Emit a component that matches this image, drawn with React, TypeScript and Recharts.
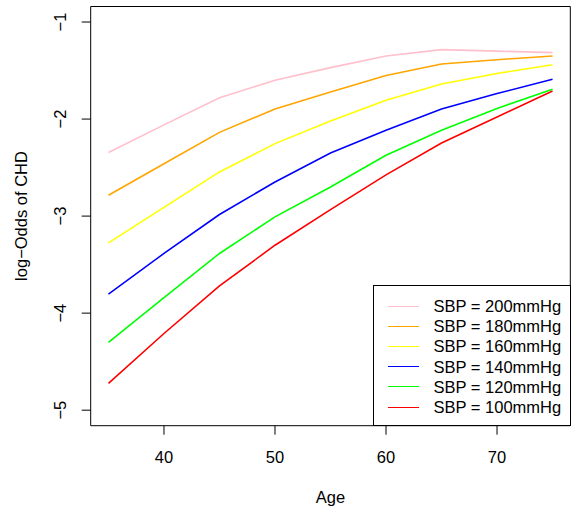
import React from "react";
import { LineChart, Line, XAxis, YAxis, ReferenceArea } from "recharts";

const ages = [35, 40, 45, 50, 55, 60, 65, 70, 75];
const sbp200 = [-2.345, -2.06, -1.78, -1.6, -1.47, -1.35, -1.284, -1.3, -1.315];
const sbp180 = [-2.785, -2.46, -2.137, -1.896, -1.72, -1.552, -1.432, -1.388, -1.35];
const sbp160 = [-3.276, -2.91, -2.545, -2.253, -2.02, -1.806, -1.638, -1.53, -1.44];
const sbp140 = [-3.804, -3.385, -2.984, -2.648, -2.35, -2.115, -1.896, -1.737, -1.59];
const sbp120 = [-4.302, -3.84, -3.385, -3.008, -2.7, -2.373, -2.115, -1.89, -1.693];
const sbp100 = [-4.724, -4.21, -3.72, -3.3, -2.934, -2.575, -2.246, -1.978, -1.71];

const xTicks = [40, 50, 60, 70];
const yTicks = [-5, -4, -3, -2, -1];
const xDomain = [33.4, 76.6];
const yDomain = [-5.16, -0.84];

const series = [
    { key: "s200", label: "SBP = 200mmHg", color: "#FFC0CB", values: sbp200 },
    { key: "s180", label: "SBP = 180mmHg", color: "#FFA500", values: sbp180 },
    { key: "s160", label: "SBP = 160mmHg", color: "#FFFF00", values: sbp160 },
    { key: "s140", label: "SBP = 140mmHg", color: "#0000FF", values: sbp140 },
    { key: "s120", label: "SBP = 120mmHg", color: "#00FF00", values: sbp120 },
    { key: "s100", label: "SBP = 100mmHg", color: "#FF0000", values: sbp100 },
];

const data = ages.map((age, i) => {
    const row: Record<string, number> = { age };
    series.forEach((s) => {
        row[s.key] = s.values[i];
    });
    return row;
});

const FONT = "'Liberation Sans', Arial, Helvetica, sans-serif";
const fmt = (v: number) => String(v).replace("-", "\u2212");

const XTick = ({ x, payload }: any) => (
    <text x={x} y={457} textAnchor="middle" dominantBaseline="central" fontFamily={FONT} fontSize={16.5} fill="#000">
        {payload.value}
    </text>
);

const YTick = ({ y, payload }: any) => (
    <text
        x={60}
        y={y}
        transform={`rotate(-90, 60, ${y})`}
        textAnchor="middle"
        dominantBaseline="central"
        fontFamily={FONT}
        fontSize={16.5}
        fill="#000"
    >
        {fmt(payload.value)}
    </text>
);

export default function App() {
    return (
        <div style={{ position: "absolute", left: 0, top: 0, width: 572, height: 513, background: "#fff" }}>
            <LineChart width={572} height={513} data={data} margin={{ top: 6.5, right: 1.7, bottom: 0, left: 0 }}>
                <XAxis
                    dataKey="age"
                    type="number"
                    domain={xDomain}
                    ticks={xTicks}
                    allowDataOverflow
                    height={87.3}
                    axisLine={false}
                    tickSize={9}
                    tickLine={{ stroke: "#000", strokeWidth: 1 }}
                    tick={<XTick />}
                    label={{
                        content: () => (
                            <text x={330.5} y={497} textAnchor="middle" dominantBaseline="central" fontFamily={FONT} fontSize={16.5} fill="#000">
                                Age
                            </text>
                        ),
                    }}
                />
                <YAxis
                    type="number"
                    domain={yDomain}
                    ticks={yTicks}
                    allowDataOverflow
                    width={90.7}
                    axisLine={false}
                    tickSize={9}
                    tickLine={{ stroke: "#000", strokeWidth: 1 }}
                    tick={<YTick />}
                    label={{
                        content: () => (
                            <text
                                x={21}
                                y={216}
                                transform="rotate(-90, 21, 216)"
                                textAnchor="middle"
                                dominantBaseline="central"
                                fontFamily={FONT}
                                fontSize={16.5}
                                fill="#000"
                            >
                                log{"\u2212"}Odds of CHD
                            </text>
                        ),
                    }}
                />
                <ReferenceArea
                    x1={xDomain[0]}
                    x2={xDomain[1]}
                    y1={yDomain[0]}
                    y2={yDomain[1]}
                    fill="none"
                    stroke="#000"
                    strokeWidth={1}
                    fillOpacity={0}
                    ifOverflow="visible"
                />
                {series
                    .slice()
                    .reverse()
                    .map((s) => (
                        <Line
                            key={s.key}
                            type="linear"
                            dataKey={s.key}
                            stroke={s.color}
                            strokeWidth={1.6}
                            dot={false}
                            activeDot={false}
                            isAnimationActive={false}
                        />
                    ))}
            </LineChart>
            <div
                style={{
                    position: "absolute",
                    left: 372.5,
                    top: 284.5,
                    width: 198,
                    height: 141.5,
                    border: "1px solid #000",
                    boxSizing: "border-box",
                    background: "#fff",
                    fontFamily: FONT,
                    fontSize: 16.5,
                }}
            >
                {series.map((s, i) => (
                    <div
                        key={s.key}
                        style={{
                            position: "absolute",
                            left: 0,
                            top: 20.5 + i * 20.2 - 10,
                            height: 20,
                            display: "flex",
                            alignItems: "center",
                            whiteSpace: "nowrap",
                        }}
                    >
                        <div style={{ marginLeft: 14, width: 31, height: 0, borderTop: `1.6px solid ${s.color}` }} />
                        <span style={{ marginLeft: 15, lineHeight: "20px" }}>{s.label}</span>
                    </div>
                ))}
            </div>
        </div>
    );
}
